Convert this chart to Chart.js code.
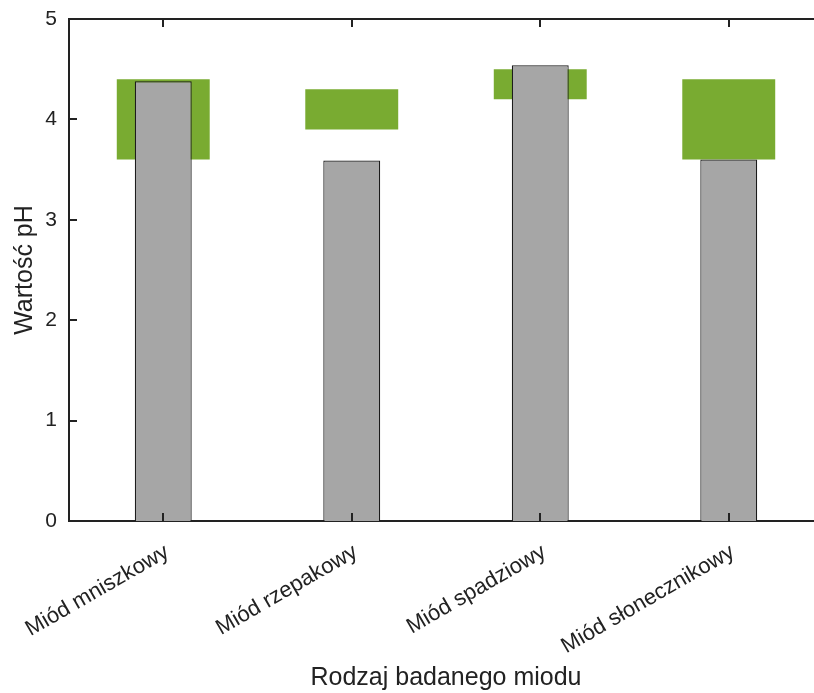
<!DOCTYPE html>
<html>
<head>
<meta charset="utf-8">
<script src="https://cdn.jsdelivr.net/npm/chart.js@4/dist/chart.umd.min.js"></script>
<style>
  html, body { margin: 0; padding: 0; background: #fff; overflow: hidden; }
  #wrap { width: 826px; height: 693px; }
</style>
</head>
<body>
<div id="wrap"><canvas id="chart" width="826" height="693"></canvas></div>
<script>
const categories = ['Miód mniszkowy', 'Miód rzepakowy', 'Miód spadziowy', 'Miód słonecznikowy'];
const phMeasured = [4.38, 3.59, 4.54, 3.6];
const phRangeLow = [3.6, 3.9, 4.2, 3.6];
const phRangeHigh = [4.4, 4.3, 4.5, 4.4];
const yTicks = [0, 1, 2, 3, 4, 5];

const font = "'Liberation Sans', Arial, Helvetica, sans-serif";
const axisColor = '#222222';

// ticks pointing into the plot + the top frame line
const innerTicks = {
    id: 'innerTicks',
    afterDatasetsDraw(chart) {
        const { ctx, chartArea: a, scales: { x, y } } = chart;
        ctx.save();
        ctx.strokeStyle = axisColor;
        ctx.lineWidth = 2;
        ctx.beginPath();
        ctx.moveTo(a.left - 1, a.top);
        ctx.lineTo(a.right, a.top);
        x.ticks.forEach((t, i) => {
            const px = Math.round(x.getPixelForTick(i));
            ctx.moveTo(px, a.bottom);
            ctx.lineTo(px, a.bottom - 8);
            ctx.moveTo(px, a.top);
            ctx.lineTo(px, a.top + 8);
        });
        yTicks.forEach(v => {
            const py = Math.round(y.getPixelForValue(v));
            ctx.moveTo(a.left, py);
            ctx.lineTo(a.left + 8, py);
        });
        ctx.stroke();
        ctx.restore();
    }
};

new Chart(document.getElementById('chart'), {
    type: 'bar',
    data: {
        labels: categories,
        datasets: [
            {
                label: 'Zmierzone pH',
                data: phMeasured,
                backgroundColor: '#a6a6a6',
                borderColor: '#1a1a1a',
                borderWidth: 1.2,
                grouped: false,
                barPercentage: 0.302,
                categoryPercentage: 1,
                order: 1
            },
            {
                label: 'Zakres normy',
                data: phRangeLow.map((lo, i) => [lo, phRangeHigh[i]]),
                backgroundColor: '#79ab31',
                borderWidth: 0,
                grouped: false,
                barPercentage: 0.493,
                categoryPercentage: 1,
                order: 2
            }
        ]
    },
    options: {
        responsive: false,
        animation: false,
        devicePixelRatio: 1,
        layout: { padding: { top: 19, left: 10, right: 3, bottom: 0 } },
        plugins: {
            legend: { display: false },
            tooltip: { enabled: false }
        },
        scales: {
            x: {
                offset: true,
                grid: { display: false },
                border: { display: true, width: 2, color: axisColor },
                afterFit: s => { s.height = 172; },
                ticks: {
                    color: axisColor,
                    font: { family: font, size: 22 },
                    minRotation: 30,
                    maxRotation: 30,
                    padding: 10,
                    labelOffset: 4
                },
                title: {
                    display: true,
                    text: 'Rodzaj badanego miodu',
                    color: axisColor,
                    font: { family: font, size: 25 },
                    padding: { top: 0, bottom: 0 }
                }
            },
            y: {
                min: 0,
                max: 5,
                grid: { display: false },
                border: { display: true, width: 2, color: axisColor },
                afterFit: s => { s.width = 59; },
                ticks: {
                    stepSize: 1,
                    color: axisColor,
                    font: { family: font, size: 21 },
                    padding: 4
                },
                title: {
                    display: true,
                    text: 'Wartość pH',
                    color: axisColor,
                    font: { family: font, size: 25 },
                    padding: { top: 0, bottom: 0 }
                }
            }
        }
    },
    plugins: [innerTicks]
});
</script>
</body>
</html>
